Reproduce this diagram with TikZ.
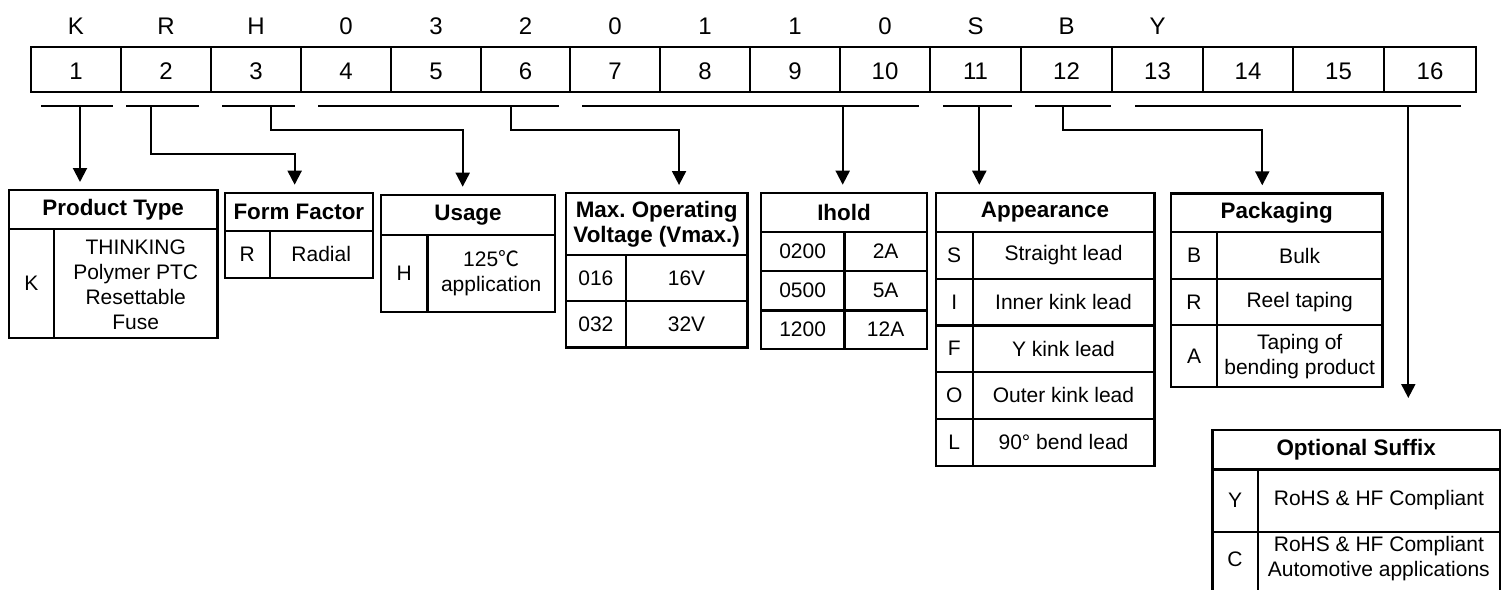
\documentclass[tikz,border=0pt]{standalone}
\usepackage{fontspec}
\setmainfont{Liberation Sans}
\newfontfamily\cjkfont{Noto Sans CJK SC}
\usetikzlibrary{arrows.meta,calc}
\frenchspacing
\begin{document}
\begin{tikzpicture}[x=0.5pt,y=-0.5pt,
  tbl/.style={line width=1.2pt},
  conn/.style={line width=1pt},
  arr/.style={conn,-{Triangle[width=7pt,length=7pt]},shorten >=4pt},
  code/.style={font=\fontsize{12}{14}\selectfont,anchor=base,inner sep=0},
  hdcell/.style={draw,line width=1.2pt,anchor=north west,inner sep=0,outer sep=0,align=center,font=\bfseries\fontsize{11.2}{12.5}\selectfont},
  txt/.style={inner sep=0,align=center,font=\fontsize{10.5}{12.5}\selectfont}]
\useasboundingbox (0,0) rectangle (1503,590);

% ---- code row ----
\foreach \a/\b/\ci in {31/121/1,121/211/2,211/301/3,301/391/4,391/481/5,481/570/6,570/660/7,660/750/8,750/840/9,840/930/10,930/1021/11,1021/1112/12,1112/1203/13,1203/1293/14,1293/1384/15,1384/1476/16} {
  \draw[tbl] (\a,46.7) rectangle (\b,91.7);
  \node[code] (n\ci) at ({(\a+\b)/2},79) {\ci};
}
\foreach \a/\b/\lt [count=\ci] in {31/121/K,121/211/R,211/301/H,301/391/0,391/481/3,481/570/2,570/660/0,660/750/1,750/840/1,840/930/0,930/1021/S,1021/1112/B,1112/1203/Y} {
  \node[code] (l\ci) at ({(\a+\b)/2},34) {\lt};
}

% ---- underlines ----
\foreach \a/\b [count=\ci] in {41/113,126/199,222/294.7,318/559,582/918.7,943/1012,1035/1111,1135/1461} {
  \draw[conn] (\a,106) coordinate (s\ci a) -- (\b,106) coordinate (s\ci b);
}
\coordinate (d1) at (80,106);
\coordinate (d2) at (151,106);   \coordinate (e2) at (151,153.7);
\coordinate (d3) at (270.7,106); \coordinate (e3) at (270.7,129.7);
\coordinate (d4) at (511,106);   \coordinate (e4) at (511,129.7);
\coordinate (d5) at (842.7,106);
\coordinate (d6) at (979.3,106);
\coordinate (d7) at (1062.7,106); \coordinate (e7) at (1062.7,129.7);
\coordinate (d8) at (1408.3,106);

% ---- Product Type ----
\node[hdcell,minimum width=104.15pt,minimum height=19.5pt] (hPT) at (9,190) {Product Type};
\draw[tbl] (9,229) rectangle (217.3,337.7) (54,229) -- (54,337.7);
\node[txt] (kPT1) at (31.5,283.4) {K};
\node[txt] (vPT1) at (135.7,285) {THINKING\\Polymer PTC\\Resettable\\Fuse};

% ---- Form Factor ----
\node[hdcell,minimum width=73.85pt,minimum height=19pt] (hFF) at (225,192.7) {Form Factor};
\draw[tbl] (225,230.7) rectangle (372.7,277.7) (269.7,230.7) -- (269.7,277.7);
\node[txt] (kFF1) at (247.3,254.2) {R};
\node[txt] (vFF1) at (321.2,254.2) {Radial};

% ---- Usage ----
\node[hdcell,minimum width=87pt,minimum height=20pt] (hUS) at (381,194.7) {Usage};
\draw[tbl] (381,234.7) rectangle (555,311.7) (427.3,234.7) -- (427.3,311.7);
\node[txt] (kUS1) at (404.1,273.2) {H};
\node[txt] (vUS1) at (491.2,273.2) {125{\cjkfont ℃}\\application};

% ---- Max. Operating Voltage ----
\node[hdcell,minimum width=90.65pt,minimum height=30.85pt] (hMO) at (566,193) {Max. Operating\\Voltage (Vmax.)};
\draw[tbl] (566,254.7) rectangle (747.3,347.3) (566,301) -- (747.3,301) (625.7,254.7) -- (625.7,347.3);
\node[txt] (kMO1) at (595.85,277.85) {016};
\node[txt] (vMO1) at (686.5,277.85) {16V};
\node[txt] (kMO2) at (595.85,324.15) {032};
\node[txt] (vMO2) at (686.5,324.15) {32V};

% ---- Ihold ----
\node[hdcell,minimum width=83pt,minimum height=19.65pt] (hIH) at (761,192.7) {Ihold};
\draw[tbl] (761,232) rectangle (927,349) (761,271) -- (927,271) (761,310.3) -- (927,310.3) (844.3,232) -- (844.3,349);
\node[txt] (kIH1) at (802.65,251.5) {0200};
\node[txt] (vIH1) at (885.65,251.5) {2A};
\node[txt] (kIH2) at (802.65,290.65) {0500};
\node[txt] (vIH2) at (885.65,290.65) {5A};
\node[txt] (kIH3) at (802.65,329.65) {1200};
\node[txt] (vIH3) at (885.65,329.65) {12A};

% ---- Appearance ----
\node[hdcell,minimum width=109.3pt,minimum height=19.65pt] (hAP) at (935.7,192.7) {Appearance};
\draw[tbl] (935.7,232) rectangle (1154.3,466)
  (935.7,278.7) -- (1154.3,278.7) (935.7,325.3) -- (1154.3,325.3)
  (935.7,372) -- (1154.3,372) (935.7,418.7) -- (1154.3,418.7)
  (972.7,232) -- (972.7,466);
\node[txt] (kAP1) at (954.2,255.35) {S};
\node[txt] (vAP1) at (1063.5,255.35) {Straight lead};
\node[txt] (kAP2) at (954.2,302) {I};
\node[txt] (vAP2) at (1063.5,302) {Inner kink lead};
\node[txt] (kAP3) at (954.2,348.65) {F};
\node[txt] (vAP3) at (1063.5,348.65) {Y kink lead};
\node[txt] (kAP4) at (954.2,395.35) {O};
\node[txt] (vAP4) at (1063.5,395.35) {Outer kink lead};
\node[txt] (kAP5) at (954.2,442.35) {L};
\node[txt] (vAP5) at (1063.5,442.35) {90° bend lead};

% ---- Packaging ----
\node[hdcell,minimum width=105.65pt,minimum height=19.35pt] (hPK) at (1171,193.3) {Packaging};
\draw[tbl] (1171,232) rectangle (1382.3,386.7)
  (1171,279) -- (1382.3,279) (1171,325) -- (1382.3,325)
  (1217,232) -- (1217,386.7);
\node[txt] (kPK1) at (1194,255.5) {B};
\node[txt] (vPK1) at (1299.65,255.5) {Bulk};
\node[txt] (kPK2) at (1194,302) {R};
\node[txt] (vPK2) at (1299.65,302) {Reel taping};
\node[txt] (kPK3) at (1194,355.85) {A};
\node[txt] (vPK3) at (1299.65,356.5) {Taping of\\bending product};

% ---- Optional Suffix ----
\node[hdcell,minimum width=143.85pt,minimum height=19.65pt] (hOS) at (1212.3,430) {Optional Suffix};
\draw[tbl] (1212.3,469.3) -- (1212.3,590) (1500,469.3) -- (1500,590)
  (1212.3,531.7) -- (1500,531.7) (1257.7,469.3) -- (1257.7,590);
\node[txt] (kOS1) at (1235,500.5) {Y};
\node[txt] (vOS1) at (1378.85,500.5) {RoHS \& HF Compliant};
\node[txt] (kOS2) at (1235,559) {C};
\node[txt] (vOS2) at (1378.85,559) {RoHS \& HF Compliant\\Automotive applications};

% ---- connectors ----
\draw[arr] (d1) -- (d1 |- hPT.north);
\draw[arr] (d2) -- (e2) -| ([xshift=-2.1pt]hFF.north);
\draw[arr] (d3) -- (e3) -| ([xshift=-2.65pt]hUS.north);
\draw[arr] (d4) -- (e4) -| ([xshift=11.2pt]hMO.north);
\draw[arr] (d5) -- (d5 |- hIH.north);
\draw[arr] (d6) -- (d6 |- hAP.north);
\draw[arr] (d7) -- (e7) -| ([xshift=-7.2pt]hPK.north);
\draw[arr,shorten >=16pt] (d8) -- (d8 |- hOS.north);
\end{tikzpicture}
\end{document}
